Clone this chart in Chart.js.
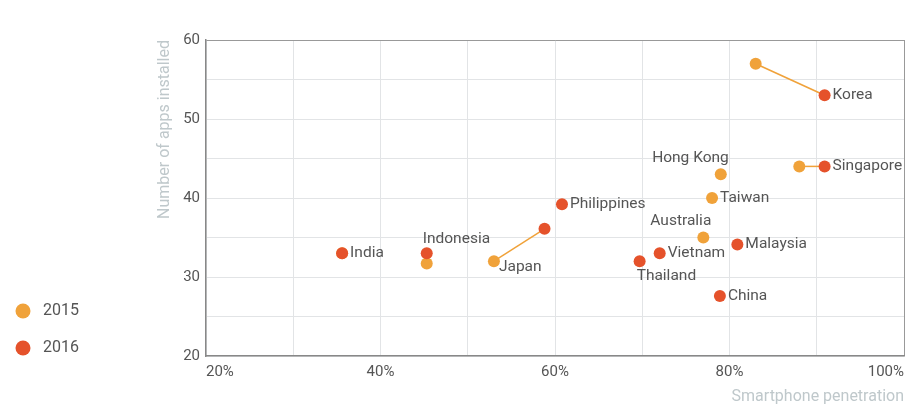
<!DOCTYPE html>
<html>
<head>
<meta charset="utf-8">
<script src="https://cdn.jsdelivr.net/npm/chart.js@4"></script>
<style>
  html, body { margin:0; padding:0; background:#fff; }
  #wrap { width:915px; height:411px; position:relative; }
</style>
</head>
<body>
<div id="wrap"><canvas id="chart" width="915" height="411"></canvas></div>
<script>
// data
const countries = ["Korea","Singapore","Hong Kong","Taiwan","Australia","Japan","Indonesia","India","Philippines","Malaysia","Vietnam","Thailand","China"];
const pen2015  = [83.0, 88.0, 79.0, 78.0, 77.0, 53.0, 45.3, 35.6, null, null, null, null, null];
const apps2015 = [57.0, 44.0, 43.0, 40.0, 35.0, 32.0, 31.7, 33.0, null, null, null, null, null];
const pen2016  = [90.9, 90.9, null, null, null, 58.8, 45.3, 35.6, 60.8, 80.9, 72.0, 69.7, 78.9];
const apps2016 = [53.0, 44.0, null, null, null, 36.1, 33.0, 33.0, 39.2, 34.1, 33.0, 32.0, 27.6];
const years = ["2015", "2016"];
const xTicks = [20, 40, 60, 80, 100];
const yTicks = [20, 30, 40, 50, 60];

// which point each label sits on, and where
const labelPlace = {
  "Korea": [2016, "right"], "Singapore": [2016, "right"], "Hong Kong": [2015, "aboveLeft"],
  "Taiwan": [2015, "right"], "Australia": [2015, "aboveLeft"], "Japan": [2015, "belowRight"],
  "Indonesia": [2016, "aboveRight"], "India": [2016, "right"], "Philippines": [2016, "right"],
  "Malaysia": [2016, "right"], "Vietnam": [2016, "right"], "Thailand": [2016, "below"],
  "China": [2016, "right"]
};

const ORANGE = "#f0a23a";
const RED = "#e5522b";
const FONT = "Roboto, 'Open Sans', sans-serif";

function pts(xs, ys){
  const out = [];
  xs.forEach((x, i) => { if (x !== null && ys[i] !== null) out.push({ x, y: ys[i], name: countries[i] }); });
  return out;
}

// connector lines between the two years
const connectors = [];
countries.forEach((c, i) => {
  if (pen2015[i] !== null && pen2016[i] !== null) {
    connectors.push({
      type: "line", label: "link " + c, order: 3,
      data: [{ x: pen2015[i], y: apps2015[i] }, { x: pen2016[i], y: apps2016[i] }],
      borderColor: ORANGE, borderWidth: 1.5, pointRadius: 0, fill: false
    });
  }
});

const labelsPlugin = {
  id: "countryLabels",
  afterDatasetsDraw(chart){
    const { ctx, scales: { x, y } } = chart;
    ctx.save();
    ctx.font = "15.5px " + FONT;
    ctx.fillStyle = "#555";
    countries.forEach((c, i) => {
      const [yr, side] = labelPlace[c];
      const px = x.getPixelForValue(yr === 2015 ? pen2015[i] : pen2016[i]);
      const py = y.getPixelForValue(yr === 2015 ? apps2015[i] : apps2016[i]);
      ctx.textBaseline = "middle";
      if (side === "right") { ctx.textAlign = "left"; ctx.fillText(c, px + 8, py); }
      else if (side === "aboveLeft") { ctx.textAlign = "right"; ctx.fillText(c, px + 8, py - 16); }
      else if (side === "aboveRight") { ctx.textAlign = "left"; ctx.fillText(c, px - 4, py - 14); }
      else if (side === "belowRight") { ctx.textAlign = "left"; ctx.fillText(c, px + 5, py + 6); }
      else if (side === "below") { ctx.textAlign = "left"; ctx.fillText(c, px - 3, py + 15); }
    });
    ctx.restore();
  }
};

const legendPlugin = {
  id: "sideLegend",
  afterDraw(chart){
    const { ctx } = chart;
    ctx.save();
    [ORANGE, RED].forEach((col, i) => {
      const cy = 311 + i * 37;
      ctx.beginPath();
      ctx.arc(23, cy, 7.5, 0, Math.PI * 2);
      ctx.fillStyle = col;
      ctx.fill();
      ctx.fillStyle = "#555";
      ctx.font = "16px " + FONT;
      ctx.textAlign = "left";
      ctx.textBaseline = "middle";
      ctx.fillText(years[i], 43, cy);
    });
    ctx.restore();
  }
};

new Chart(document.getElementById("chart"), {
  type: "scatter",
  data: {
    datasets: [
      { label: years[1], data: pts(pen2016, apps2016), backgroundColor: RED, borderWidth: 0, pointRadius: 6, order: 1 },
      { label: years[0], data: pts(pen2015, apps2015), backgroundColor: ORANGE, borderWidth: 0, pointRadius: 6, order: 2 },
      ...connectors
    ]
  },
  options: {
    responsive: false,
    animation: false,
    events: [],
    layout: { padding: { left: 152, top: 40, right: 11, bottom: 0 } },
    plugins: { legend: { display: false }, tooltip: { enabled: false } },
    scales: {
      x: {
        type: "linear", min: 20, max: 100,
        afterFit: (s) => { s.height = 55; },
        ticks: {
          stepSize: 10, align: "inner", padding: 7, color: "#555",
          font: { family: FONT, size: 15 },
          callback: (v) => xTicks.includes(v) ? v + "%" : ""
        },
        grid: {
          color: (c) => c.tick && c.tick.value === 100 ? "#999" : "#e2e4e6",
          drawTicks: false
        },
        border: { color: "#888", width: 1.5 },
        title: {
          display: true, text: "Smartphone penetration", align: "end",
          color: "#bfc8cb", font: { family: FONT, size: 16 }, padding: { top: 3 }
        }
      },
      y: {
        type: "linear", min: 20, max: 60,
        afterFit: (s) => { s.width = 54; },
        ticks: {
          stepSize: 5, padding: 6, color: "#555",
          font: { family: FONT, size: 15 },
          callback: (v) => yTicks.includes(v) ? v : ""
        },
        grid: {
          color: (c) => c.tick && c.tick.value === 60 ? "#999" : "#e2e4e6",
          drawTicks: false
        },
        border: { color: "#888", width: 1.5 },
        title: {
          display: true, text: "Number of apps installed", align: "end",
          color: "#bfc8cb", font: { family: FONT, size: 16 }, padding: { top: 3, bottom: 0 }
        }
      }
    }
  },
  plugins: [labelsPlugin, legendPlugin]
});
</script>
</body>
</html>
